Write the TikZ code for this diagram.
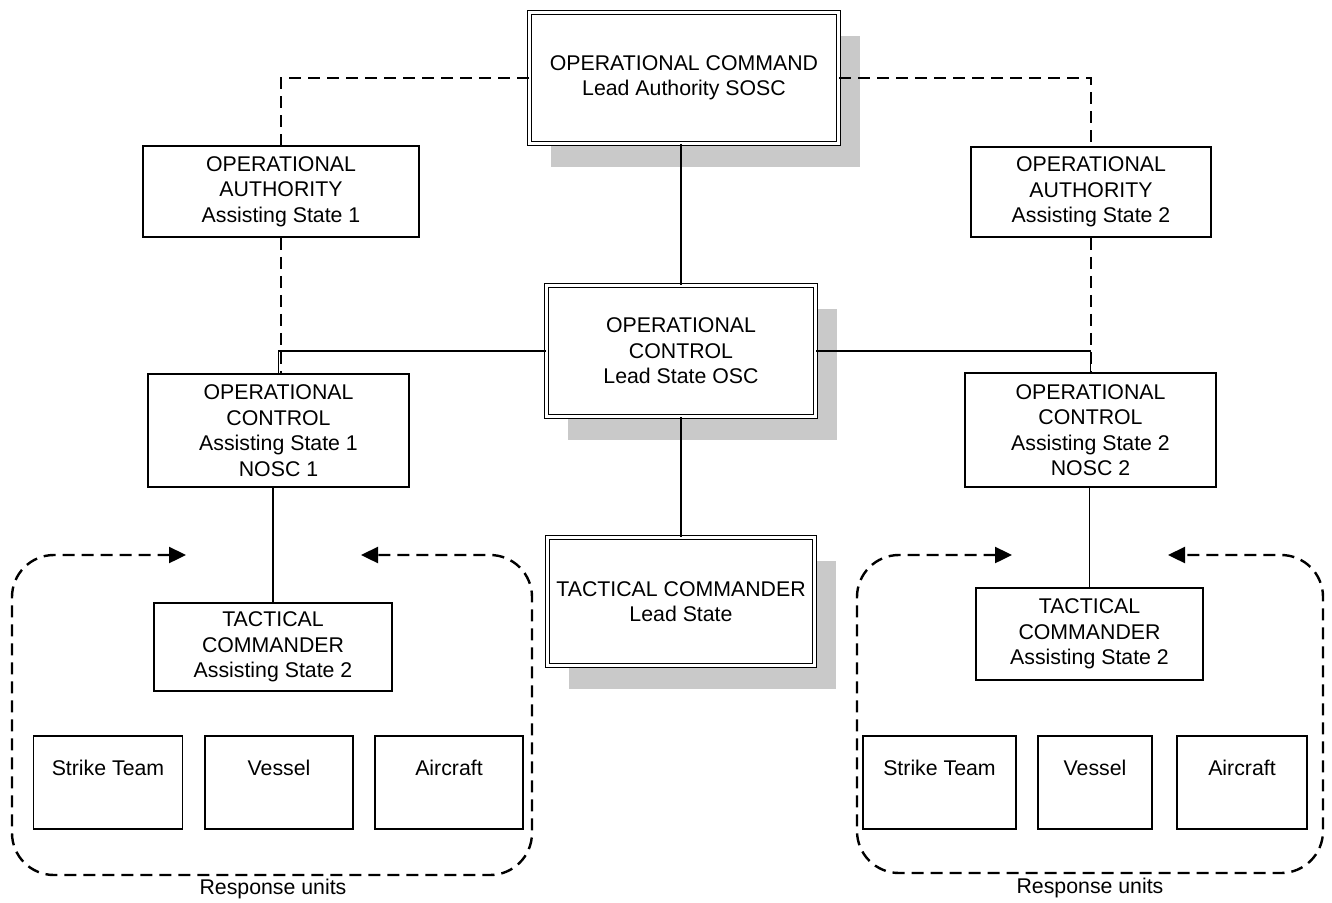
\documentclass[tikz,border=0pt]{standalone}
\usepackage{fontspec}
\setmainfont{Liberation Sans}
\usetikzlibrary{shadows,arrows.meta,calc}
\begin{document}
\begin{tikzpicture}[x=1pt,y=-1pt,
  box/.style={draw, line width=1.5pt, align=center, inner sep=0pt, fill=white,
    font=\fontsize{21.3pt}{25.5pt}\selectfont},
  dbox/.style={box, double, double distance=2.2pt, line width=1.4pt,
    drop shadow={shadow xshift=21pt, shadow yshift=-23pt, fill=black!21, opacity=1, draw=none}},
  unitbox/.style={box, text height=39pt, text depth=54pt},
  conn/.style={line width=1.5pt},
  dconn/.style={line width=2.4pt, dash pattern=on 12pt off 7pt},
  frame/.style={dconn, rounded corners=42pt, {Triangle[length=17pt,width=16pt]}-{Triangle[length=17pt,width=16pt]}},
  caption/.style={font=\fontsize{21.3pt}{25.5pt}\selectfont, inner sep=0pt, anchor=base}
]
\useasboundingbox (0,0) rectangle (1332,902);

% double boxes
\node[dbox, minimum width=309pt, minimum height=131pt] (top) at (684,78)
  {OPERATIONAL COMMAND\\Lead Authority SOSC};
\node[dbox, minimum width=269pt, minimum height=131pt] (ctrl) at (681,351)
  {OPERATIONAL\\CONTROL\\Lead State OSC};
\node[dbox, minimum width=267pt, minimum height=128pt] (tcl) at (681,601.5)
  {TACTICAL COMMANDER\\Lead State};

% side boxes
\node[box, minimum width=276pt, minimum height=91pt] (oa1) at (281,191.5)
  {OPERATIONAL\\AUTHORITY\\Assisting State 1};
\node[box, minimum width=240pt, minimum height=90pt] (oa2) at (1091,192)
  {OPERATIONAL\\AUTHORITY\\Assisting State 2};
\node[box, minimum width=261pt, minimum height=113pt] (oc1) at (278.5,430.5)
  {OPERATIONAL\\CONTROL\\Assisting State 1\\NOSC 1};
\node[box, minimum width=251pt, minimum height=114pt] (oc2) at (1090.5,430)
  {OPERATIONAL\\CONTROL\\Assisting State 2\\NOSC 2};
\node[box, minimum width=238pt, minimum height=88pt] (tc1) at (273,647)
  {TACTICAL\\COMMANDER\\Assisting State 2};
\node[box, minimum width=227pt, minimum height=92pt] (tc2) at (1089.5,634)
  {TACTICAL\\COMMANDER\\Assisting State 2};

% response units
\node[unitbox, minimum width=149pt] (st1) at (108,782.5) {Strike Team};
\node[unitbox, minimum width=148pt] (ve1) at (279,782.5) {Vessel};
\node[unitbox, minimum width=148pt] (ai1) at (449,782.5) {Aircraft};
\node[unitbox, minimum width=153pt] (st2) at (939.5,782.5) {Strike Team};
\node[unitbox, minimum width=114pt] (ve2) at (1095,782.5) {Vessel};
\node[unitbox, minimum width=130pt] (ai2) at (1242,782.5) {Aircraft};

\node[caption] (ru1) at (273,894) {Response units};
\node[caption] (ru2) at (1090,893) {Response units};

% connectors
\draw[dconn] (top.west) -| (oa1.north);
\draw[dconn] (top.east) -| (oa2.north);
\draw[dconn] (oa1.south) -- (oa1.south |- oc1.north);
\draw[dconn] (oa2.south) -- (oa2.south |- oc2.north);
\draw[conn] (ctrl.north) -- (ctrl.north |- top.south);
\draw[conn] (ctrl.west) -| (oc1.north);
\draw[conn] (ctrl.east) -| (oc2.north);
\draw[conn] (ctrl.south) -- (tcl.north);
\draw[conn] (tc1.north) -- (tc1.north |- oc1.south);
\draw[conn] (tc2.north) -- (tc2.north |- oc2.south);

% dashed frames with arrows
\coordinate (f1a) at (186,555);
\coordinate (f1b) at (361,555);
\coordinate (f2a) at (1012,555);
\coordinate (f2b) at (1168,555);
\draw[frame] (f1a) -- (12,555) -- (12,875) -- (532,875) -- (532,555) -- (f1b);
\draw[frame] (f2a) -- (857,555) -- (857,873) -- (1323,873) -- (1323,555) -- (f2b);
\end{tikzpicture}
\end{document}
